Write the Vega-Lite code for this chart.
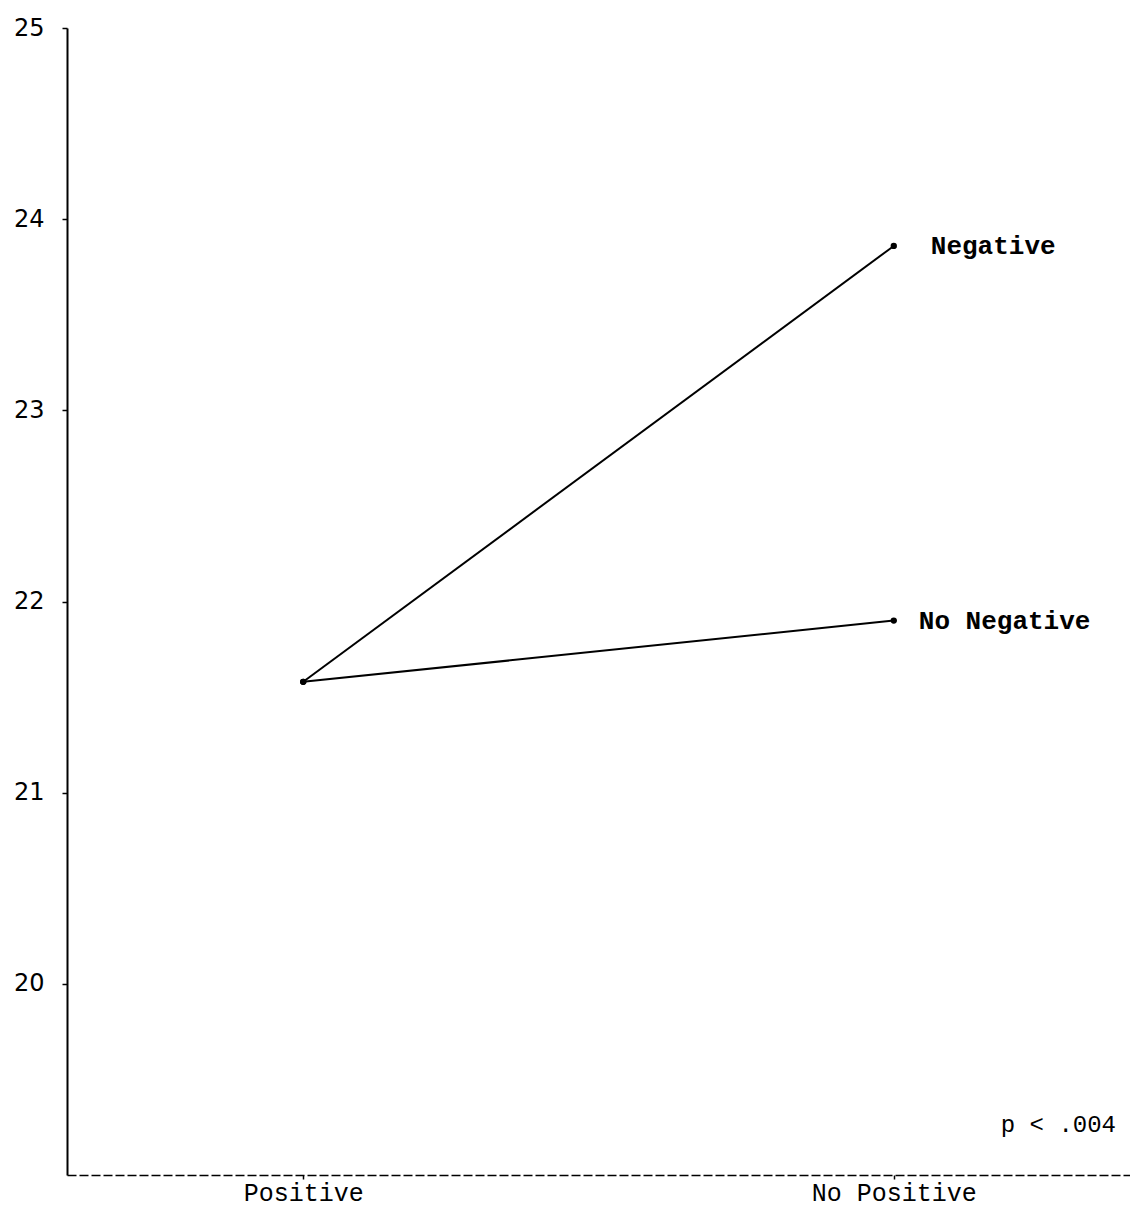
{
  "$schema": "https://vega.github.io/schema/vega-lite/v6.json",
  "autosize": {"type": "none"},
  "width": 1063,
  "height": 1147,
  "padding": {"left": 67, "top": 28, "right": 0, "bottom": 35},
  "background": "white",
  "config": {"view": {"stroke": null}},
  "data": {
    "values": [
      {"condition": "Positive", "group": "Negative", "score": 21.58},
      {"condition": "No Positive", "group": "Negative", "score": 23.86},
      {"condition": "Positive", "group": "No Negative", "score": 21.58},
      {"condition": "No Positive", "group": "No Negative", "score": 21.9}
    ]
  },
  "encoding": {
    "x": {
      "field": "condition",
      "type": "nominal",
      "sort": ["Positive", "No Positive"],
      "scale": {"type": "point", "padding": 0.4},
      "axis": {
        "title": null,
        "labelAngle": 0,
        "labelFont": "Liberation Mono",
        "labelFontSize": 25,
        "labelColor": "black",
        "labelPadding": 1,
        "labelBound": false,
        "domainColor": "black",
        "domainWidth": 1.5,
        "domainDash": [9, 3],
        "tickColor": "black",
        "tickSize": 4,
        "tickWidth": 1.5
      }
    },
    "y": {
      "field": "score",
      "type": "quantitative",
      "scale": {"domain": [19, 25], "nice": false, "zero": false},
      "axis": {
        "title": null,
        "values": [20, 21, 22, 23, 24, 25],
        "grid": false,
        "labelFont": "DejaVu Sans",
        "labelFontSize": 24,
        "labelColor": "black",
        "labelPadding": 18,
        "domainColor": "black",
        "domainWidth": 2,
        "tickColor": "black",
        "tickSize": 5,
        "tickWidth": 1.5
      }
    }
  },
  "layer": [
    {
      "mark": {"type": "line", "color": "black", "strokeWidth": 2},
      "encoding": {"detail": {"field": "group"}}
    },
    {
      "mark": {"type": "point", "filled": true, "color": "black", "size": 40, "opacity": 1}
    },
    {
      "transform": [{"filter": "datum.condition === 'No Positive' && datum.group === 'Negative'"}],
      "mark": {"type": "text", "align": "left", "baseline": "middle", "dx": 37, "font": "Liberation Mono", "fontSize": 26, "fontWeight": "bold", "color": "black"},
      "encoding": {"text": {"field": "group"}}
    },
    {
      "transform": [{"filter": "datum.condition === 'No Positive' && datum.group === 'No Negative'"}],
      "mark": {"type": "text", "align": "left", "baseline": "middle", "dx": 25, "font": "Liberation Mono", "fontSize": 26, "fontWeight": "bold", "color": "black"},
      "encoding": {"text": {"field": "group"}}
    },
    {
      "data": {"values": [{"condition": "No Positive", "score": 19.26, "label": "p < .004"}]},
      "mark": {"type": "text", "align": "left", "baseline": "middle", "dx": 107, "font": "Liberation Mono", "fontSize": 24, "color": "black"},
      "encoding": {"text": {"field": "label"}}
    }
  ]
}
